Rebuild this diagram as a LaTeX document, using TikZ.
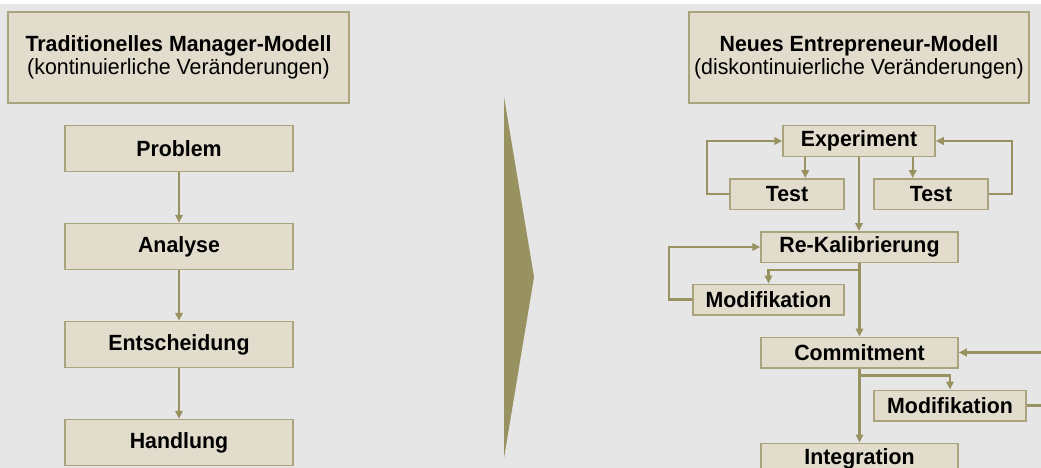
\documentclass[tikz,border=0pt]{standalone}
\usepackage{fontspec}
\setmainfont{Liberation Sans}[FakeStretch=0.97]
\usepackage{tikz}
\usetikzlibrary{calc,
	positioning,
	arrows.meta}

\definecolor{bggray}{HTML}{E6E6E6}
\definecolor{boxfill}{HTML}{E2DCCD}
\definecolor{boxline}{HTML}{A9A47E}
\definecolor{olive}{HTML}{989260}

\tikzset{
	box/.style={draw=boxline, line width=1.5pt, fill=boxfill, inner sep=0pt,
		font=\fontsize{22}{23}\selectfont, text=black},
	headbox/.style={box, minimum width=341pt, minimum height=91pt, align=center},
	stepbox/.style={box, minimum width=228pt, minimum height=46pt, font=\fontsize{22}{23}\selectfont\bfseries},
	smallbox/.style={box, minimum height=30.5pt, font=\fontsize{22}{23}\selectfont\bfseries},
	link/.style={draw=olive, line width=2.1pt, -{Triangle[length=8pt,width=7.5pt]}},
	loop/.style={link}
}

\begin{document}
\begin{tikzpicture}[x=1pt, y=-1pt]
	\useasboundingbox (0,0) rectangle (1041,468);
	\fill[bggray] (0,4) rectangle (1041,468);
	% Headers
	\node[headbox] (hdrL) at (178.5,57.5) {\textbf{Traditionelles Manager-Modell}\\(kontinuierliche Veränderungen)};
	\node[headbox, minimum width=340pt] (hdrR) at (859,57.5) {\textbf{Neues Entrepreneur-Modell}\\(diskontinuierliche Veränderungen)};
	% Left chain
	\foreach \name/\txt [count=\i] in {problem/Problem, analyse/Analyse, entsch/Entscheidung, handl/Handlung}{
		\node[stepbox] (\name) at (179,{148.5+98*(\i-1)}) {\txt};
	}
	\foreach \a/\b in {problem/analyse, analyse/entsch, entsch/handl}{
		\draw[link] (\a.south) -- (\b.north);
	}
	% Chevron
	\fill[olive] (504,97) -- (534,277) -- (504,458) -- cycle;
	% Right side
	\node[smallbox, minimum width=152pt] (exp) at (859,141) {Experiment};
	\node[smallbox, minimum width=114pt] (testL) at (787,194) {Test};
	\node[smallbox, minimum width=114pt] (testR) at (931,194) {Test};
	\node[smallbox, minimum width=197pt] (rekal) at (859.5,247) {Re-Kalibrierung};
	\node[smallbox, minimum width=151pt] (modL) at (768.5,299.5) {Modifikation};
	\node[smallbox, minimum width=197pt] (commit) at (859.5,352.5) {Commitment};
	\node[smallbox, minimum width=152pt] (modR) at (950,405.5) {Modifikation};
	\node[smallbox, minimum width=197pt] (integ) at (859.5,458.5) {Integration};
	% Experiment loops
	\draw[link] ($(exp.south west)+(23,0)$) coordinate (eL) -- (eL |- testL.north);
	\draw[link] ($(exp.south east)+(-23,0)$) coordinate (eR) -- (eR |- testR.north);
	\draw[loop] (testL.west) -- ++(-22,0) |- (exp.west);
	\draw[loop] (testR.east) -- ++(23,0) |- (exp.east);
	\draw[link] (exp.south) -- (exp.south |- rekal.north);
	% Re-Kalibrierung
	\draw[link] ($(rekal.south)+(0,7)$) -| (modL.north);
	\draw[loop] (modL.west) -- ++(-23,0) |- (rekal.west);
	\draw[link] (rekal.south) -- (commit.north);
	% Commitment
	\draw[link] ($(commit.south)+(0,7)$) -| (modR.north);
	\draw[loop] (modR.east) -- ++(17,0) |- (commit.east);
	\draw[link] (commit.south) -- (integ.north);
\end{tikzpicture}
\end{document}
